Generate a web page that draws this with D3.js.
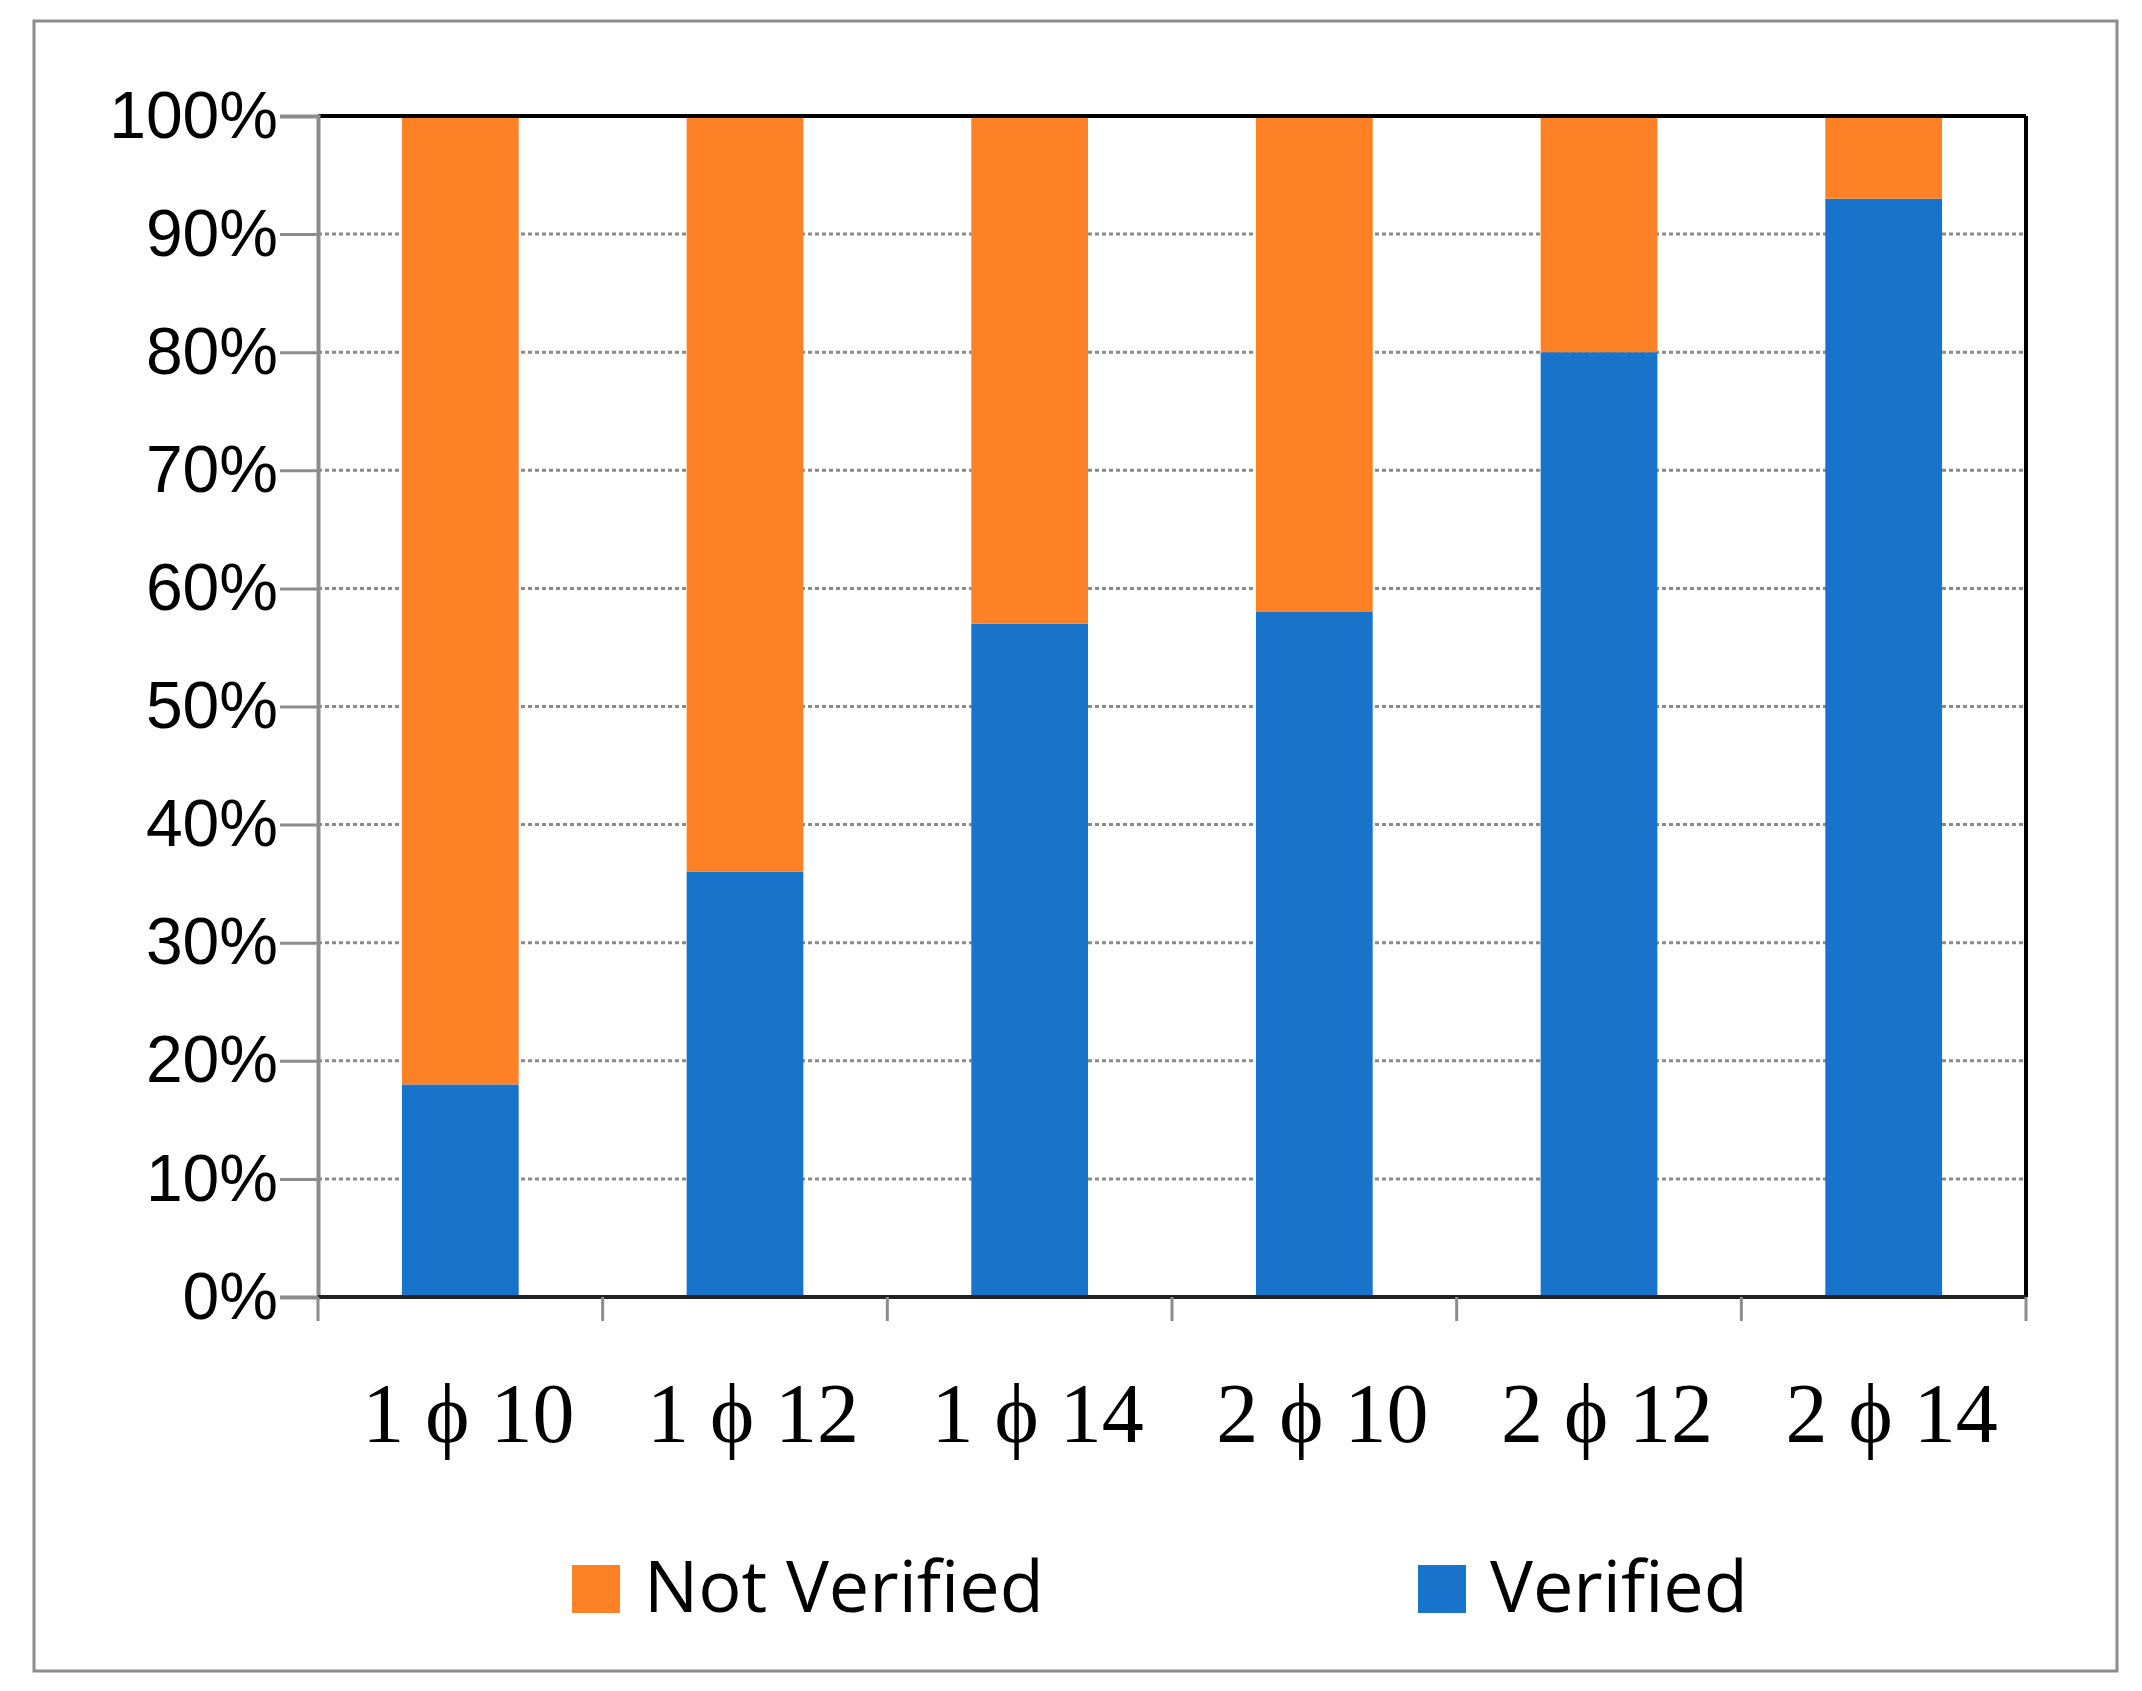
<!DOCTYPE html>
<html><head><meta charset="utf-8">
<script src="https://cdn.jsdelivr.net/npm/d3@7"></script>
<style>body{margin:0;background:#fff}</style></head>
<body><svg id="c" width="2142" height="1691"></svg>
<script>
const categories = ["1 \u03d5 10","1 \u03d5 12","1 \u03d5 14","2 \u03d5 10","2 \u03d5 12","2 \u03d5 14"];
const verified = [18, 36, 57, 58, 80, 93];
const notVerified = [82, 64, 43, 42, 20, 7];
const yTicks = [0,10,20,30,40,50,60,70,80,90,100];
const seriesNames = ["Not Verified","Verified"];
const colors = {"Verified":"#1874CA","Not Verified":"#FE8126"};

const svg = d3.select("#c");
svg.append("rect").attr("x",34).attr("y",21).attr("width",2083).attr("height",1650)
  .attr("fill","#fff").attr("stroke","#8c8c8c").attr("stroke-width",3);
const L=318,R=2026,T=116,B=1297;
const x = d3.scaleBand().domain(categories).range([L,R]).paddingInner(0.59).paddingOuter(0.295);
const y = d3.scaleLinear().domain([0,100]).range([B,T]);

svg.append("g").selectAll("line").data(yTicks.filter(d=>d>0&&d<100)).join("line")
  .attr("x1",L).attr("x2",R).attr("y1",d=>y(d)).attr("y2",d=>y(d))
  .attr("stroke","#8a8a8a").attr("stroke-width",3).attr("stroke-dasharray","4,3");

const stack = categories.map((c,i)=>({c,v:verified[i],n:notVerified[i]}));
svg.append("g").selectAll("rect").data(stack).join("rect")
  .attr("x",d=>x(d.c)).attr("width",x.bandwidth()).attr("y",d=>y(d.v)).attr("height",d=>y(0)-y(d.v))
  .attr("fill",colors["Verified"]);
svg.append("g").selectAll("rect").data(stack).join("rect")
  .attr("x",d=>x(d.c)).attr("width",x.bandwidth()).attr("y",d=>y(d.v+d.n)).attr("height",d=>y(d.v)-y(d.v+d.n))
  .attr("fill",colors["Not Verified"]);

// frame
svg.append("line").attr("x1",L).attr("x2",R).attr("y1",T).attr("y2",T).attr("stroke","#000").attr("stroke-width",4);
svg.append("line").attr("x1",R).attr("x2",R).attr("y1",T).attr("y2",B).attr("stroke","#000").attr("stroke-width",4);
// y axis
const ya = svg.append("g").attr("transform",`translate(${L},0)`)
  .call(d3.axisLeft(y).tickValues(yTicks).tickFormat(d=>d+"%").tickSize(38).tickPadding(14));
ya.select(".domain").attr("stroke","#8c8c8c").attr("stroke-width",4);
ya.selectAll(".tick line").attr("stroke","#8c8c8c").attr("stroke-width",3);
ya.selectAll("text").attr("font-family","Liberation Sans, Arial, sans-serif").attr("font-size",66).attr("fill","#000").attr("dx",12);
// x axis
const bx = d3.scaleLinear().domain([0,6]).range([L,R]);
svg.append("line").attr("x1",L).attr("x2",R).attr("y1",B).attr("y2",B).attr("stroke","#222").attr("stroke-width",4);
svg.append("g").selectAll("line").data(d3.range(7)).join("line")
  .attr("x1",d=>bx(d)).attr("x2",d=>bx(d)).attr("y1",B).attr("y2",B+24).attr("stroke","#8c8c8c").attr("stroke-width",3);
svg.append("g").selectAll("text").data(categories).join("text")
  .attr("x",d=>x(d)+x.bandwidth()/2+8).attr("y",1442).attr("text-anchor","middle")
  .attr("font-family","Liberation Serif, Times New Roman, serif").attr("font-size",84).text(d=>d);
// legend
const leg=[{n:"Not Verified",x:572},{n:"Verified",x:1418}];
const lg=svg.append("g").selectAll("g").data(leg).join("g");
lg.append("rect").attr("x",d=>d.x).attr("y",1565).attr("width",48).attr("height",48).attr("fill",d=>colors[d.n]);
lg.append("text").attr("x",d=>d.x+72).attr("y",1612).attr("font-family","Open Sans, Calibri, sans-serif")
  .attr("font-size",72).text(d=>d.n);
</script></body></html>
